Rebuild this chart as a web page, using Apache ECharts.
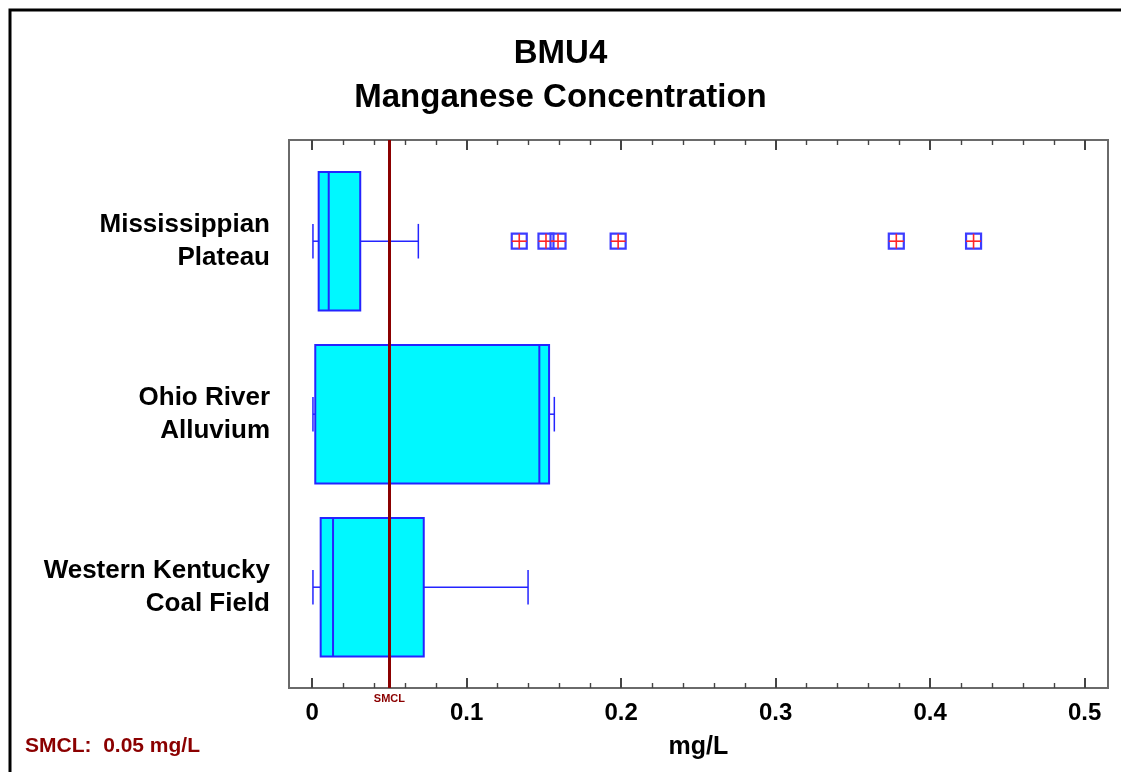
<!DOCTYPE html>
<html>
<head>
<meta charset="utf-8">
<title>BMU4 Manganese Concentration</title>
<script src="https://cdn.jsdelivr.net/npm/echarts@6/dist/echarts.min.js"></script>
<style>
  html, body { margin: 0; padding: 0; background: #ffffff; }
  #chart { width: 1121px; height: 772px; }
</style>
</head>
<body>
<div id="chart"></div>
<script>
// Hydrologic units (top to bottom)
const categories = ['Mississippian\nPlateau', 'Ohio River\nAlluvium', 'Western Kentucky\nCoal Field'];

// Box statistics per unit, mg/L
const whiskerLow  = [0.0005, 0.0005, 0.0005];
const quartile1   = [0.0042, 0.0020, 0.0055];
const median      = [0.0107, 0.1470, 0.0135];
const quartile3   = [0.0311, 0.1533, 0.0722];
const whiskerHigh = [0.0687, 0.1567, 0.1397];

// Outlying samples of the Mississippian Plateau, mg/L
const plateauOutliers = [0.134, 0.1513, 0.1591, 0.198, 0.378, 0.428];

// Secondary maximum contaminant level, mg/L
const smclLimit = 0.05;

// Axis range and tick spacing
const axisMin = -0.015;
const axisMax = 0.515;
const tickMin = 0;
const tickMax = 0.5;
const tickStep = 0.1;

const FONT = '"Liberation Sans", Arial, sans-serif';
const BOX_BLUE = '#2424ff';
const DARK_RED = '#8b0000';

const boxData = categories.map((c, i) =>
  [i, whiskerLow[i], quartile1[i], median[i], quartile3[i], whiskerHigh[i]]);
const outlierData = plateauOutliers.map(v => [v, 0]);

function renderBox(params, api) {
  const cat = api.value(0);
  const band = api.size([0, 1])[1];
  const half = band * 0.4;
  const cap = band * 0.1;
  const pLow = api.coord([api.value(1), cat]);
  const pQ1 = api.coord([api.value(2), cat]);
  const pMed = api.coord([api.value(3), cat]);
  const pQ3 = api.coord([api.value(4), cat]);
  const pHigh = api.coord([api.value(5), cat]);
  const y = pMed[1];
  const line = { stroke: BOX_BLUE, lineWidth: 1.5 };
  return {
    type: 'group',
    children: [
      { type: 'line', shape: { x1: pLow[0], y1: y, x2: pQ1[0], y2: y }, style: line },
      { type: 'line', shape: { x1: pQ3[0], y1: y, x2: pHigh[0], y2: y }, style: line },
      { type: 'line', shape: { x1: pLow[0], y1: y - cap, x2: pLow[0], y2: y + cap }, style: line },
      { type: 'line', shape: { x1: pHigh[0], y1: y - cap, x2: pHigh[0], y2: y + cap }, style: line },
      {
        type: 'rect',
        shape: { x: pQ1[0], y: y - half, width: pQ3[0] - pQ1[0], height: half * 2 },
        style: { fill: '#00f8ff', stroke: BOX_BLUE, lineWidth: 2 }
      },
      { type: 'line', shape: { x1: pMed[0], y1: y - half, x2: pMed[0], y2: y + half },
        style: { stroke: BOX_BLUE, lineWidth: 2 } }
    ]
  };
}

function renderOutlier(params, api) {
  const p = api.coord([api.value(0), api.value(1)]);
  const h = 7.5;
  return {
    type: 'group',
    children: [
      { type: 'rect', shape: { x: p[0] - h, y: p[1] - h, width: h * 2, height: h * 2 },
        style: { fill: 'rgba(255,255,255,0)', stroke: '#3c3cff', lineWidth: 2.2 } },
      { type: 'line', shape: { x1: p[0] - h, y1: p[1], x2: p[0] + h, y2: p[1] },
        style: { stroke: '#ff2626', lineWidth: 1.6 } },
      { type: 'line', shape: { x1: p[0], y1: p[1] - h, x2: p[0], y2: p[1] + h },
        style: { stroke: '#ff2626', lineWidth: 1.6 } }
    ]
  };
}

const chart = echarts.init(document.getElementById('chart'), null, { renderer: 'canvas' });

const tickStyle = {
  axisLine: { show: false },
  axisTick: { show: true, inside: true, length: 10, lineStyle: { color: '#444', width: 2 } },
  minorTick: { show: true, splitNumber: 5, length: 5, lineStyle: { color: '#444', width: 1.4 } },
  splitLine: { show: false }
};

chart.setOption({
  backgroundColor: '#ffffff',
  animation: false,
  title: {
    text: 'BMU4\nManganese Concentration',
    left: 'center',
    top: 27,
    textStyle: { fontFamily: FONT, fontWeight: 'bold', fontSize: 33, lineHeight: 44, color: '#000' }
  },
  grid: [
    // plot frame
    { left: 289, width: 819, top: 140, height: 548, show: true,
      borderColor: '#6a6a6a', borderWidth: 2, backgroundColor: 'transparent' },
    // data area
    { left: 289, width: 819, top: 154.7, height: 519 },
    // tick area spanning 0 .. 0.5
    { left: 312.2, width: 772.5, top: 140, height: 548 }
  ],
  xAxis: [
    { gridIndex: 0, type: 'value', min: axisMin, max: axisMax, show: false },
    { gridIndex: 1, type: 'value', min: axisMin, max: axisMax, show: false },
    Object.assign({
      gridIndex: 2, type: 'value', position: 'bottom', min: tickMin, max: tickMax, interval: tickStep,
      axisLabel: { show: true, margin: 13, color: '#000', fontFamily: FONT, fontWeight: 'bold', fontSize: 24,
        formatter: v => String(Math.round(v * 10) / 10) },
      name: 'mg/L', nameLocation: 'middle', nameGap: 47,
      nameTextStyle: { fontFamily: FONT, fontWeight: 'bold', fontSize: 25, color: '#000' }
    }, tickStyle),
    Object.assign({
      gridIndex: 2, type: 'value', position: 'top', min: tickMin, max: tickMax, interval: tickStep,
      axisLabel: { show: false }
    }, tickStyle)
  ],
  yAxis: [
    { gridIndex: 0, type: 'value', show: false },
    {
      gridIndex: 1, type: 'category', data: categories, inverse: true,
      axisLine: { show: false }, axisTick: { show: false }, splitLine: { show: false },
      axisLabel: { margin: 19, color: '#000', fontFamily: FONT, fontWeight: 'bold', fontSize: 26,
        lineHeight: 33, align: 'right' }
    },
    { gridIndex: 2, type: 'value', min: 0, max: 1, show: false }
  ],
  series: [
    {
      type: 'custom', name: 'Manganese', xAxisIndex: 1, yAxisIndex: 1,
      encode: { x: [1, 2, 3, 4, 5], y: 0 },
      renderItem: renderBox, data: boxData, z: 2
    },
    {
      type: 'scatter', name: 'SMCL', xAxisIndex: 2, yAxisIndex: 2, data: [], silent: true, z: 3,
      markLine: {
        silent: true, symbol: 'none', animation: false,
        lineStyle: { color: DARK_RED, width: 3, type: 'solid' },
        label: { show: true, position: 'start', distance: 5, formatter: 'SMCL',
          color: DARK_RED, fontFamily: FONT, fontSize: 11, fontWeight: 'bold' },
        data: [{ xAxis: smclLimit }]
      }
    },
    {
      type: 'custom', name: 'Outliers', xAxisIndex: 1, yAxisIndex: 1,
      encode: { x: 0, y: 1 },
      renderItem: renderOutlier, data: outlierData, z: 4
    }
  ],
  graphic: [
    { type: 'rect', silent: true, z: 10,
      shape: { x: 10, y: 10, width: 1300, height: 1000 },
      style: { fill: 'transparent', stroke: '#000', lineWidth: 3 } },
    { type: 'text', left: 25, top: 736, silent: true,
      style: { text: 'SMCL:  ' + smclLimit + ' mg/L', fill: DARK_RED,
        font: 'bold 21px "Liberation Sans", Arial, sans-serif' } }
  ]
});
</script>
</body>
</html>
